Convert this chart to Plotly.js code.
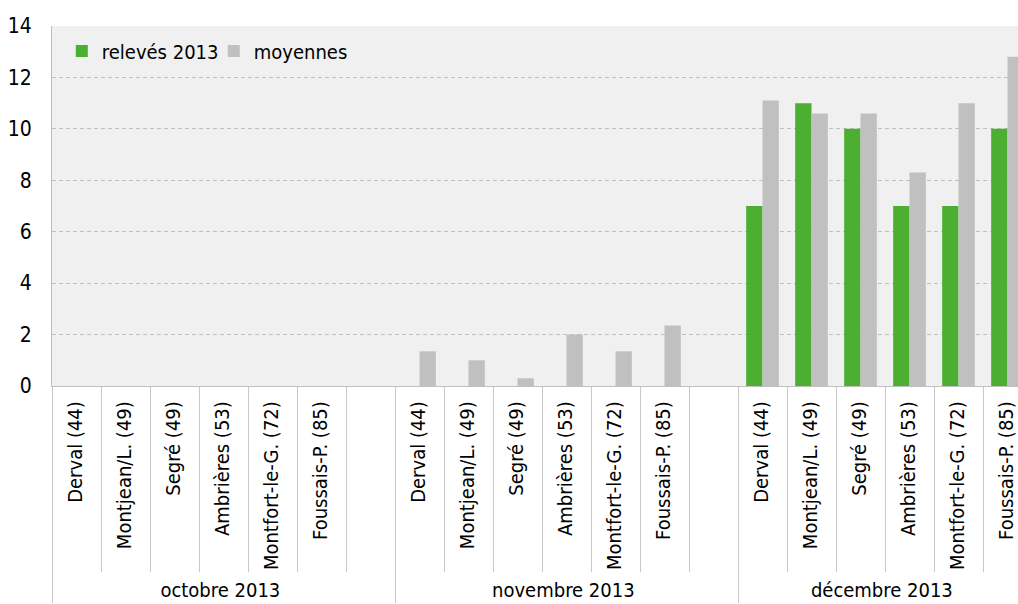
<!DOCTYPE html>
<html><head><meta charset="utf-8">
<script src="https://cdn.plot.ly/plotly-3.0.1.min.js"></script>
<style>html,body{margin:0;padding:0;overflow:hidden;background:#fff;}#chart{width:1032px;height:604px;}
#chart text{font-stretch:condensed;}</style>
</head><body><div id="chart"></div>
<script>
const months = ["octobre 2013","octobre 2013","octobre 2013","octobre 2013","octobre 2013","octobre 2013","octobre 2013",
  "novembre 2013","novembre 2013","novembre 2013","novembre 2013","novembre 2013","novembre 2013","novembre 2013",
  "décembre 2013","décembre 2013","décembre 2013","décembre 2013","décembre 2013","décembre 2013"];
const stations = ["Derval (44)","Montjean/L. (49)","Segré (49)","Ambrières (53)","Montfort-le-G. (72)","Foussais-P. (85)"," ",
  "Derval (44)","Montjean/L. (49)","Segré (49)","Ambrières (53)","Montfort-le-G. (72)","Foussais-P. (85)","  ",
  "Derval (44)","Montjean/L. (49)","Segré (49)","Ambrières (53)","Montfort-le-G. (72)","Foussais-P. (85)"];
const releves2013 = [0,0,0,0,0,0,null, 0,0,0,0,0,0,null, 7,11,10,7,7,10];
const moyennes    = [0,0,0,0,0,0,null, 1.35,1.0,0.3,2.0,1.35,2.35,null, 11.1,10.6,10.6,8.3,11.0,12.8];
const yTicks = [0,2,4,6,8,10,12,14];

const FONT = "'DejaVu Sans Condensed','DejaVu Sans',sans-serif";
const big = s => '<span style="font-size:20px">' + s + '</span>';
const xCats = [months.map(big), stations.map(big)];
const traces = [
  {type:'bar', name:'relevés 2013', x:xCats, y:releves2013, marker:{color:'#4daf32'}},
  {type:'bar', name:'moyennes', x:xCats, y:moyennes, marker:{color:'#c0c0c0'}}
];
const layout = {
  width:1032, height:604, autosize:false,
  margin:{l:52, r:0, t:26, b:218, autoexpand:false},
  paper_bgcolor:'#ffffff', plot_bgcolor:'#f0f0f0',
  font:{family:FONT, size:20, color:'#000'},
  barmode:'group', bargap:0.333, bargroupgap:0,
  showlegend:true,
  legend:{orientation:'h', x:0.01, y:0.985, xanchor:'left', yanchor:'top', bgcolor:'rgba(0,0,0,0)',
          font:{family:FONT, size:20, color:'#000'}, entrywidth:107, traceorder:'normal'},
  xaxis:{type:'multicategory', tickangle:-90, showline:true, linecolor:'#c0c0c0', linewidth:1,
         ticks:'outside', ticklen:185, tickcolor:'#c8c8c8', tickwidth:1, ticklabelstandoff:7,
         showdividers:true, dividercolor:'#c8c8c8', dividerwidth:1,
         tickfont:{family:FONT, size:18, color:'#000'}, automargin:false, showgrid:false, zeroline:false},
  yaxis:{range:[0,14], tickvals:yTicks, ticktext:yTicks.map(String), showline:true, linecolor:'#c0c0c0', linewidth:1,
         gridcolor:'#c0c0c0', griddash:'4px,3px', gridwidth:1, zeroline:false, ticks:'', ticklabelstandoff:15,
         tickfont:{family:FONT, size:21, color:'#000'}, automargin:false, fixedrange:true}
};
Plotly.newPlot('chart', traces, layout, {displayModeBar:false, staticPlot:true});
</script></body></html>
